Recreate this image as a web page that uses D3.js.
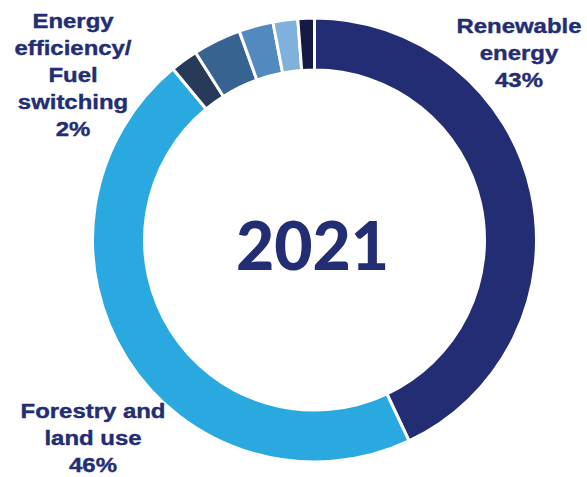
<!DOCTYPE html><meta charset="utf-8"><style>
    body { margin: 0; background: #fff; }
    .lbl text { fill: #232d73; font: bold 21px "Liberation Sans", Arial, sans-serif; stroke: #232d73; stroke-width: 0.4px; }
    .year { fill: #232d73; font: 900 66px Lato, "Liberation Sans", sans-serif; }
</style><svg width="587" height="477"></svg><script src="https://cdn.jsdelivr.net/npm/d3@7"></script><script>

    var width = 587, height = 477;

    // share of each category, clockwise from 12 o'clock
    var categories = ["Renewable energy", "Forestry and land use", "Energy efficiency/Fuel switching",
        "Other 1", "Other 2", "Other 3", "Other 4"];
    var shares = [43, 46, 2, 3.5, 2.5, 1.8, 1.2];
    var colors = ["#232d73", "#29a9e0", "#283a5a", "#376391", "#528abf", "#80b1dc", "#151a45"];

    var labels = [
        {lines: ["Renewable", "energy", "43%"], x: 519, y: 33},
        {lines: ["Forestry and", "land use", "46%"], x: 93, y: 418},
        {lines: ["Energy", "efficiency/", "Fuel", "switching", "2%"], x: 73, y: 28}
    ];
    var year = "2021";

    var data = categories.map((c, i) => ({name: c, value: shares[i]}));

    var cx = 314.5, cy = 240, outer = 222, inner = 170;

    var pie = d3.pie().sort(null).value(d => d.value);
    var arc = d3.arc().innerRadius(inner).outerRadius(outer);
    var color = d3.scaleOrdinal().domain(categories).range(colors);

    const svg = d3.select("svg");

    svg.append("g")
        .attr("transform", `translate(${cx},${cy})`)
        .selectAll("path")
        .data(pie(data))
        .join("path")
        .attr("d", arc)
        .attr("fill", d => color(d.data.name))
        .attr("stroke", "#fff")
        .attr("stroke-width", 3);

    svg.append("text")
        .attr("class", "year")
        .attr("x", cx - 2)
        .attr("y", 270)
        .attr("text-anchor", "middle")
        .text(year);

    var lg = svg.append("g").attr("class", "lbl")
        .selectAll("text")
        .data(labels)
        .join("text")
        .attr("text-anchor", "middle")
        .attr("transform", d => `translate(${d.x},${d.y}) scale(1.14,1)`);

    lg.selectAll("tspan")
        .data(d => d.lines)
        .join("tspan")
        .attr("x", 0)
        .attr("y", (d, i) => i * 27)
        .text(d => d);

</script>
